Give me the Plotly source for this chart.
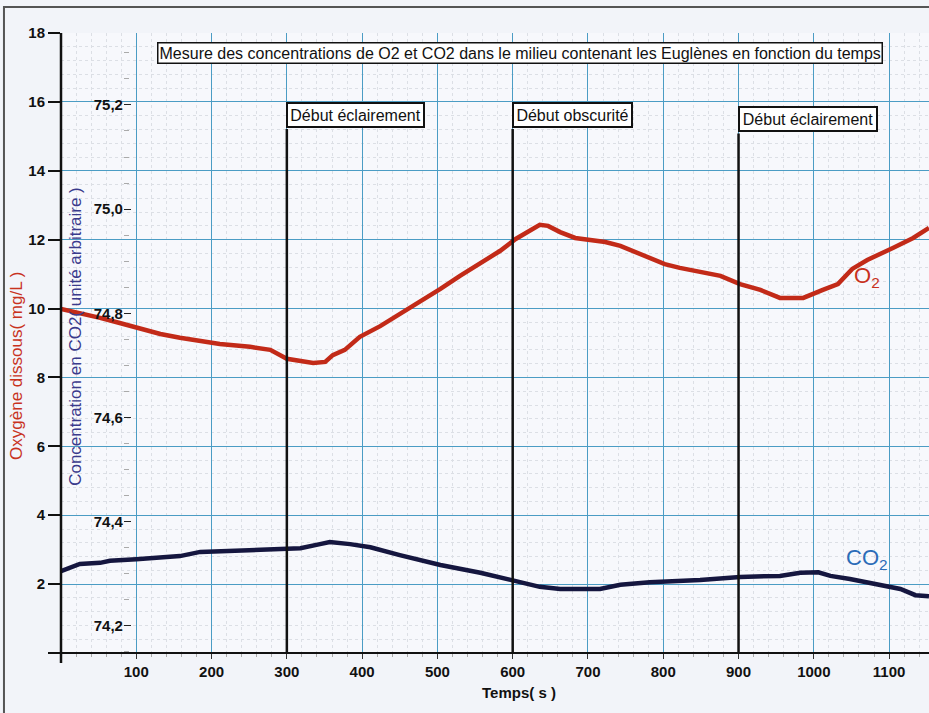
import plotly.graph_objects as go

# Dissolved oxygen (mg/L) over time (s)
O2_T = [0, 25, 52, 78, 105, 132, 158, 185, 211, 251, 278, 300, 318, 335, 351, 361, 377, 397, 424, 450,
        477, 504, 530, 557, 583, 604, 623, 636, 647, 663, 683, 703, 723, 743, 763, 783, 802, 822, 849, 876,
        902, 929, 955, 986, 1012, 1032, 1051, 1071, 1105, 1132, 1153]
O2_V = [9.99, 9.87, 9.73, 9.58, 9.41, 9.26, 9.15, 9.06, 8.97, 8.89, 8.80, 8.54, 8.48, 8.42, 8.45, 8.65, 8.80, 9.18, 9.49, 9.84,
        10.19, 10.57, 10.95, 11.32, 11.67, 12.02, 12.28, 12.43, 12.40, 12.22, 12.05, 11.99, 11.93, 11.82, 11.64, 11.47, 11.29, 11.18, 11.06, 10.95,
        10.71, 10.54, 10.31, 10.31, 10.54, 10.71, 11.15, 11.41, 11.76, 12.05, 12.34]

# CO2 concentration (arbitrary unit) over time (s)
CO2_T = [0, 19, 25, 52, 65, 100, 158, 185, 251, 304, 318, 344, 357, 384, 411, 450, 504, 557, 604, 636,
         663, 716, 743, 782, 849, 902, 955, 982, 1006, 1022, 1048, 1075, 1115, 1135, 1153]
CO2_V = [74.305, 74.317, 74.319, 74.321, 74.325, 74.328, 74.334, 74.342, 74.346, 74.348, 74.349, 74.357, 74.361, 74.357, 74.351, 74.336, 74.317, 74.302, 74.286, 74.275,
         74.271, 74.271, 74.279, 74.284, 74.288, 74.294, 74.296, 74.302, 74.303, 74.296, 74.290, 74.282, 74.271, 74.259, 74.257]

# Experimental events
EVENT_T = [300, 600, 900]
EVENT_LABELS = ["Début éclairement", "Début obscurité", "Début éclairement"]

X_TICKS = list(range(0, 1200, 100))
O2_TICKS = list(range(0, 20, 2))
CO2_TICKS = [74.2, 74.4, 74.6, 74.8, 75.0, 75.2]

TITLE = "Mesure des concentrations de O2 et CO2 dans le milieu contenant les Euglènes en fonction du temps"

FONT = "Liberation Sans, Arial, sans-serif"
GRID_BLUE = "#4b9cc4"
MINOR_GRID = "#dcdfe5"
RED = "#c22a18"
NAVY = "#15163f"

fig = go.Figure()
fig.add_trace(go.Scatter(x=O2_T, y=O2_V, mode="lines", line=dict(color=RED, width=4.5),
                         name="O2", showlegend=False, yaxis="y"))
fig.add_trace(go.Scatter(x=CO2_T, y=CO2_V, mode="lines", line=dict(color=NAVY, width=4.5),
                         name="CO2", showlegend=False, yaxis="y2"))

tickfont = dict(family=FONT, size=15, color="#111", weight="bold")

fig.update_layout(
    width=929, height=713,
    margin=dict(l=61, r=0, t=33, b=60),
    paper_bgcolor="#f2f4f9",
    plot_bgcolor="#f7f8fc",
    font=dict(family=FONT),
    xaxis=dict(
        range=[0, 1153], tickvals=X_TICKS, ticktext=[""] + [str(v) for v in X_TICKS[1:]],
        showgrid=True, gridcolor=GRID_BLUE, gridwidth=1.3,
        ticks="outside", ticklen=5, tickcolor="#333", tickwidth=1,
        tickfont=tickfont, showline=False, zeroline=False,
        minor=dict(dtick=20, tick0=0, showgrid=True, gridcolor=MINOR_GRID, griddash="dot",
                   gridwidth=1, ticks="outside", ticklen=3, tickcolor="#aaa"),
    ),
    yaxis=dict(
        range=[0, 18], tickvals=O2_TICKS, ticktext=[""] + [str(v) for v in O2_TICKS[1:]],
        showgrid=True, gridcolor=GRID_BLUE, gridwidth=1.3,
        ticks="outside", ticklen=12, tickcolor="#111", tickwidth=1.5,
        tickfont=tickfont, showline=False, zeroline=False,
        minor=dict(dtick=0.4, tick0=0, showgrid=True, gridcolor=MINOR_GRID, griddash="dot", gridwidth=1),
    ),
    yaxis2=dict(
        overlaying="y", anchor="free", position=0.0714, side="left",
        range=[74.148, 75.338], tickvals=CO2_TICKS,
        ticktext=[f"{v:.1f}".replace(".", ",") for v in CO2_TICKS],
        ticks="inside", ticklen=7, tickcolor="#222", tickwidth=1.3,
        tickfont=tickfont, showgrid=False, showline=False, zeroline=False,
        minor=dict(dtick=0.05, tick0=74.2, ticks="inside", ticklen=5, tickcolor="#aaa"),
    ),
)

shapes = []
# axis lines crossing at the origin
shapes.append(dict(type="line", xref="paper", yref="paper", x0=-0.014, x1=1.0, y0=0, y1=0,
                   line=dict(color="#111", width=2)))
shapes.append(dict(type="line", xref="paper", yref="paper", x0=0, x1=0, y0=-0.016, y1=1.0,
                   line=dict(color="#111", width=2.5)))
# outer frame
shapes.append(dict(type="rect", xref="paper", yref="paper", x0=-0.0657, x1=1.02, y0=-0.2, y1=1.042,
                   line=dict(color="#555", width=2), fillcolor="rgba(0,0,0,0)", layer="below"))

box_tops = [0.889, 0.889, 0.882]
box_bottoms = [0.845, 0.845, 0.838]
box_widths = [131, 113, 132]
for t, label, top, bot, w in zip(EVENT_T, EVENT_LABELS, box_tops, box_bottoms, box_widths):
    shapes.append(dict(type="line", xref="x", yref="paper", x0=t, x1=t, y0=0, y1=bot,
                       line=dict(color="#111", width=2.5)))
    fig.add_annotation(x=t, xref="x", y=top, yref="paper", xanchor="left", yanchor="top",
                       text=label, showarrow=False, width=w, height=18, align="center",
                       font=dict(family=FONT, size=16, color="#111"),
                       bgcolor="#ffffff", bordercolor="#111", borderwidth=2, borderpad=2, xshift=-1)

fig.update_layout(shapes=shapes)

fig.add_annotation(x=0.5288, y=0.9685, xref="paper", yref="paper", xanchor="center", yanchor="middle",
                   text=TITLE, showarrow=False,
                   font=dict(family=FONT, size=16, color="#111"),
                   bgcolor="#ffffff", bordercolor="#111", borderwidth=1.5, borderpad=1)

# axis titles
fig.add_annotation(x=-0.0507, y=0.463, xref="paper", yref="paper", xanchor="center", yanchor="middle",
                   text="Oxygène dissous( mg/L )",
                   textangle=-90, showarrow=False, font=dict(family=FONT, size=17, color="#c8321e"))
fig.add_annotation(x=0.0173, y=0.51, xref="paper", yref="paper", xanchor="center", yanchor="middle",
                   text="Concentration en CO2( unité arbitraire )",
                   textangle=-90, showarrow=False, font=dict(family=FONT, size=17, color="#3a3a8c"))
fig.add_annotation(x=0.4827, y=-0.0645, xref="paper", yref="paper", xanchor="left", yanchor="middle",
                   text="Temps( s )", showarrow=False,
                   font=dict(family=FONT, size=15, color="#111", weight="bold"))

# curve labels
fig.add_annotation(x=0.928, y=0.607, xref="paper", yref="paper", xanchor="center", yanchor="middle",
                   text="O<sub>2</sub>",
                   showarrow=False, font=dict(family=FONT, size=22, color="#c8321e"))
fig.add_annotation(x=0.928, y=0.152, xref="paper", yref="paper", xanchor="center", yanchor="middle",
                   text="CO<sub>2</sub>",
                   showarrow=False, font=dict(family=FONT, size=22, color="#2b6cb8"))

fig.write_html("out.html")
